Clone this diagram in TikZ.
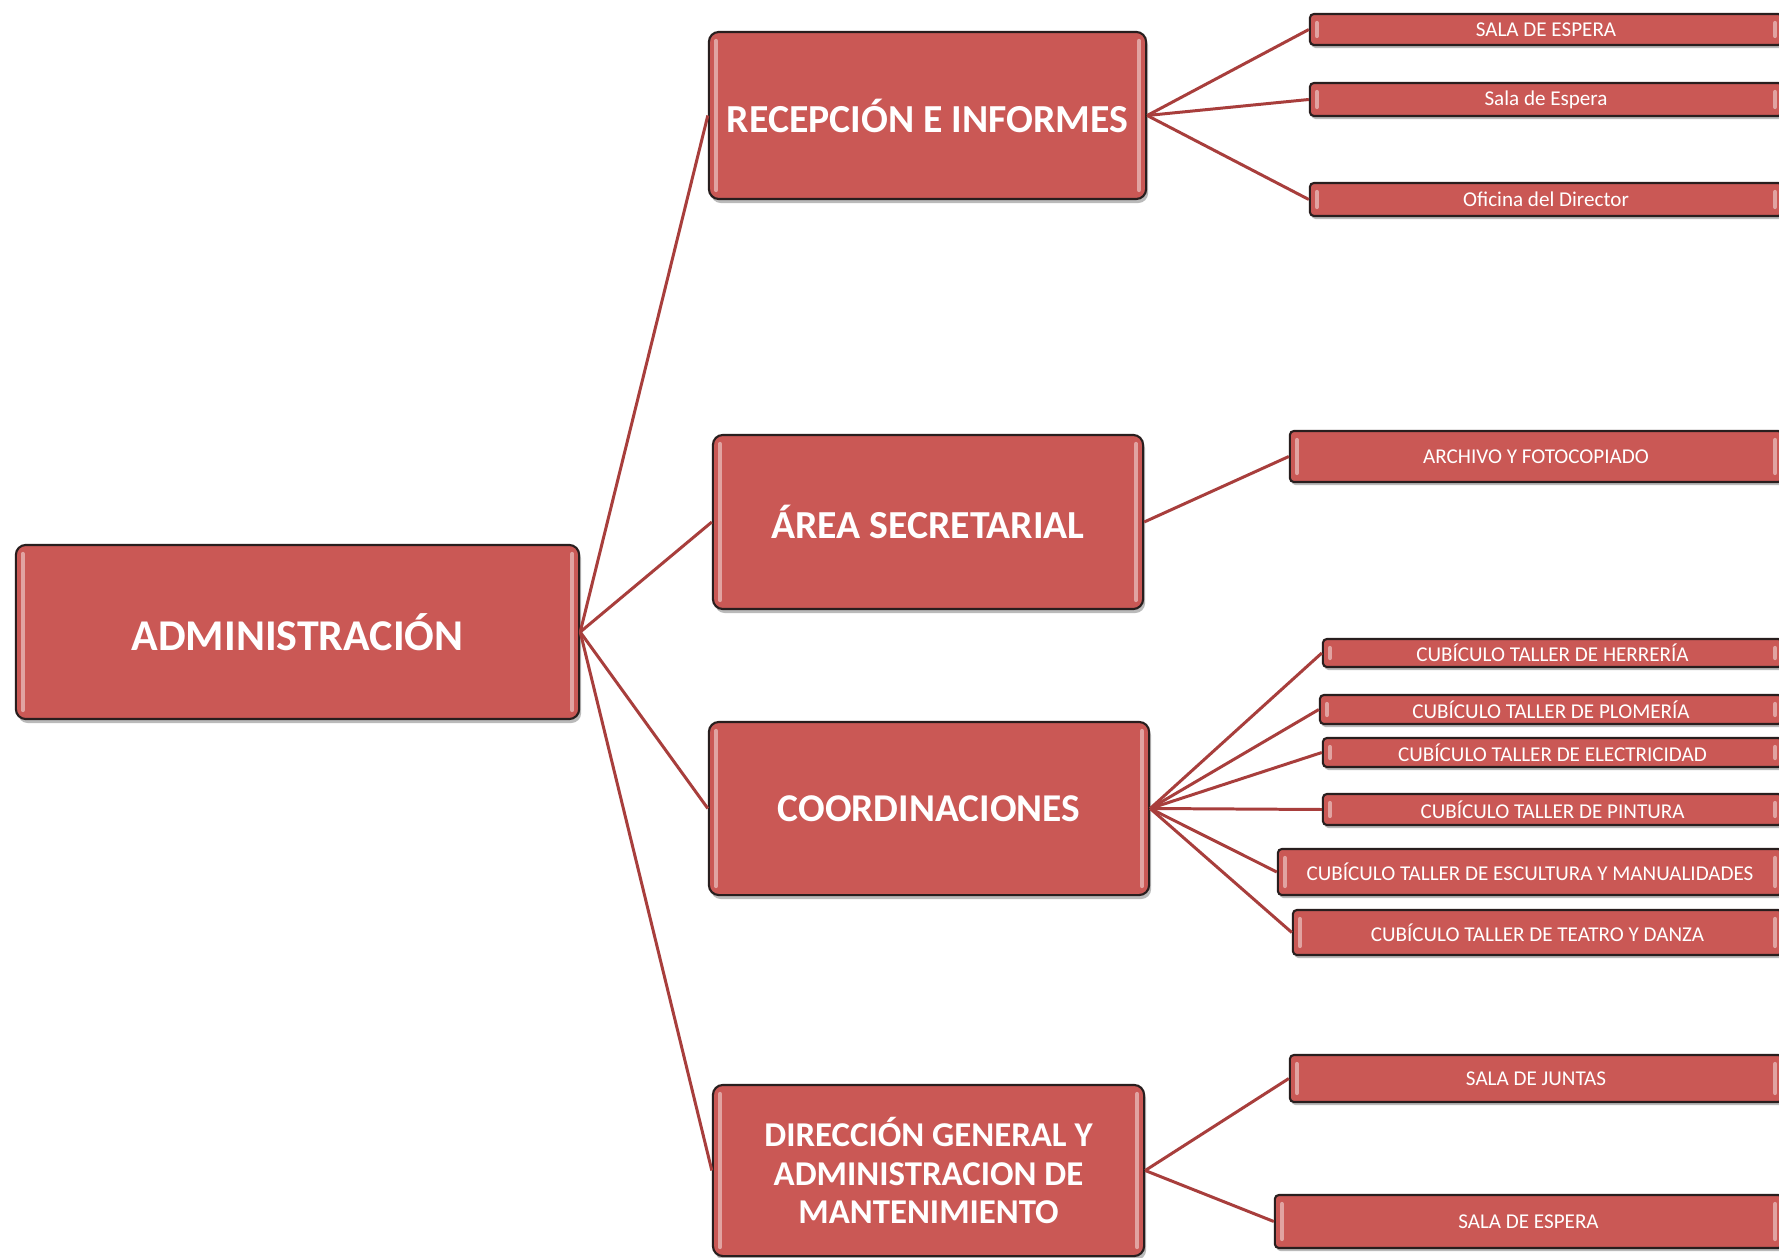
\documentclass[tikz,border=0pt]{standalone}
\usepackage{fontspec}
\setmainfont{Carlito}
\usetikzlibrary{shadows}
\definecolor{boxred}{RGB}{202,88,85}
\definecolor{linered}{RGB}{168,62,60}
\definecolor{edgedark}{RGB}{40,30,30}
\tikzset{
  gloss/.style={path picture={
    \draw[white,opacity=0.45,line width=1.2pt,line cap=round]
      ([xshift=0.07cm,yshift=-0.09cm]path picture bounding box.north west) --
      ([xshift=0.07cm,yshift=0.09cm]path picture bounding box.south west);
    \draw[white,opacity=0.45,line width=1.2pt,line cap=round]
      ([xshift=-0.07cm,yshift=-0.09cm]path picture bounding box.north east) --
      ([xshift=-0.07cm,yshift=0.09cm]path picture bounding box.south east);
  }},
  bigbox/.style={draw=edgedark,line width=0.6pt,fill=boxred,rounded corners=0.1cm,
    text=white,font=\bfseries\fontsize{11.3}{13}\selectfont,inner sep=0pt,align=center,
    drop shadow={shadow xshift=0.02cm,shadow yshift=-0.04cm,fill=black!45,opacity=0.6},gloss},
  smallbox/.style={draw=edgedark,line width=0.6pt,fill=boxred,rounded corners=0.04cm,
    text=white,font=\fontsize{6}{7}\selectfont,inner sep=0pt,
    drop shadow={shadow xshift=0.015cm,shadow yshift=-0.03cm,fill=black!45,opacity=0.6},gloss},
  conn/.style={draw=linered,line width=0.85pt}
}
\begin{document}
\begin{tikzpicture}[x=0.01cm,y=-0.01cm]
\path[use as bounding box,clip] (0,0) rectangle (1779,1258);
\fill[white] (0,0) rectangle (1779,1258);
% level 0
\node[bigbox,minimum width=5.63cm,minimum height=1.74cm,font=\bfseries\fontsize{12.5}{15}\selectfont] (root) at (297.5,632) {ADMINISTRACIÓN};
% level 1
\node[bigbox,minimum width=4.37cm,minimum height=1.67cm] (rec) at (927.5,115.5) {RECEPCIÓN E INFORMES};
\node[bigbox,minimum width=4.30cm,minimum height=1.74cm] (area) at (928,522) {ÁREA SECRETARIAL};
\node[bigbox,minimum width=4.40cm,minimum height=1.73cm,font=\bfseries\fontsize{11.2}{13}\selectfont] (coord) at (929,808.5) {COORDINACIONES};
\node[bigbox,minimum width=4.31cm,minimum height=1.71cm,font=\bfseries\fontsize{9.9}{10.9}\selectfont] (dir) at (928.5,1170.5) {DIRECCIÓN GENERAL Y\\ADMINISTRACION DE\\MANTENIMIENTO};
% level 2
\node[smallbox,minimum width=4.72cm,minimum height=0.31cm] (s1) at (1546,29.5) {SALA DE ESPERA};
\node[smallbox,minimum width=4.72cm,minimum height=0.33cm] (s2) at (1546,99.5) {Sala de Espera};
\node[smallbox,minimum width=4.72cm,minimum height=0.33cm] (s3) at (1546,199.5) {Oficina del Director};
\node[smallbox,minimum width=4.92cm,minimum height=0.51cm] (s4) at (1536,456.5) {ARCHIVO Y FOTOCOPIADO};
\node[smallbox,minimum width=4.59cm,minimum height=0.28cm] (s5) at (1552.5,653) {CUBÍCULO TALLER DE HERRERÍA};
\node[smallbox,minimum width=4.62cm,minimum height=0.29cm] (s6) at (1551,709.5) {CUBÍCULO TALLER DE PLOMERÍA};
\node[smallbox,minimum width=4.59cm,minimum height=0.29cm] (s7) at (1552.5,752.5) {CUBÍCULO TALLER DE ELECTRICIDAD};
\node[smallbox,minimum width=4.59cm,minimum height=0.31cm] (s8) at (1552.5,809.5) {CUBÍCULO TALLER DE PINTURA};
\node[smallbox,minimum width=5.04cm,minimum height=0.46cm] (s9) at (1530,872) {CUBÍCULO TALLER DE ESCULTURA Y MANUALIDADES};
\node[smallbox,minimum width=4.89cm,minimum height=0.45cm] (s10) at (1537.5,932.5) {CUBÍCULO TALLER DE TEATRO Y DANZA};
\node[smallbox,minimum width=4.92cm,minimum height=0.47cm] (s11) at (1536,1078.5) {SALA DE JUNTAS};
\node[smallbox,minimum width=5.07cm,minimum height=0.53cm] (s12) at (1528.5,1221.5) {SALA DE ESPERA};
% connectors
\foreach \c in {rec,area,coord,dir} \draw[conn] (root.east) -- (\c.west);
\foreach \c in {s1,s2,s3} \draw[conn] (rec.east) -- (\c.west);
\draw[conn] (area.east) -- (s4.west);
\foreach \c in {s5,s6,s7,s8,s9,s10} \draw[conn] (coord.east) -- (\c.west);
\foreach \c in {s11,s12} \draw[conn] (dir.east) -- (\c.west);
\end{tikzpicture}
\end{document}
